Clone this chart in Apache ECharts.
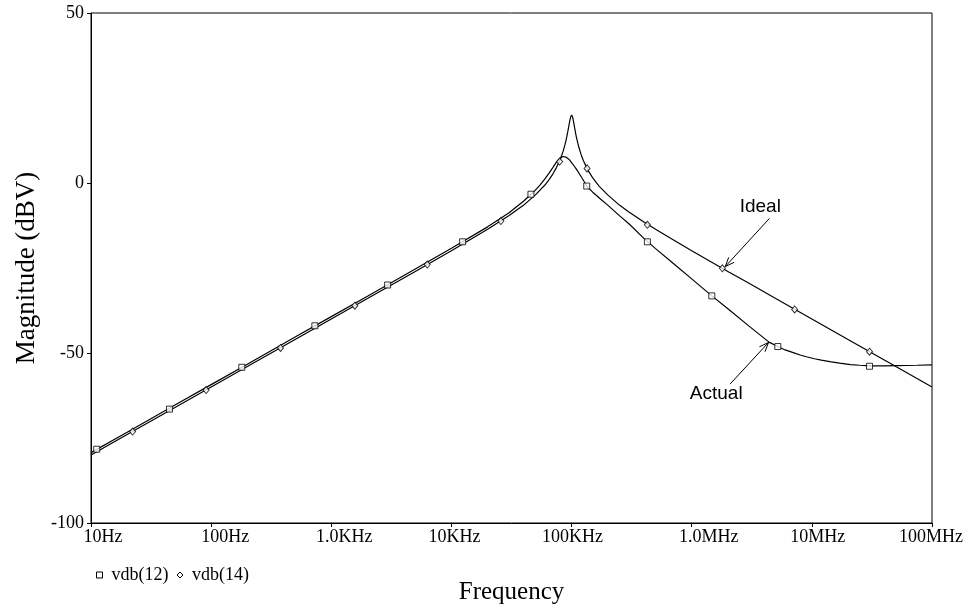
<!DOCTYPE html>
<html>
<head>
<meta charset="utf-8">
<script src="https://cdn.jsdelivr.net/npm/echarts@6/dist/echarts.min.js"></script>
<style>
  html, body { margin: 0; padding: 0; background: #fff; }
  #chart { width: 973px; height: 611px; }
</style>
</head>
<body>
<div id="chart"></div>
<script>
// Frequency response of the filter: ideal vs. actual magnitude (dBV)
const freqIdeal = [10, 20, 50, 100, 200, 500, 1e3, 2e3, 5e3, 1e4, 2e4, 3e4, 4e4, 5e4, 6e4, 6.5e4, 7e4, 7.5e4, 8e4, 8.5e4, 8.8e4, 9e4, 9.1e4, 9.3e4, 9.5e4, 9.7e4, 9.8e4, 9.9e4, 1e5, 1.01e5, 1.02e5, 1.03e5, 1.05e5, 1.08e5, 1.1e5, 1.15e5, 1.2e5, 1.25e5, 1.3e5, 1.4e5, 1.5e5, 1.7e5, 2e5, 2.5e5, 3e5, 4e5, 5e5, 7e5, 1e6, 2e6, 3e6, 5e6, 1e7, 2e7, 5e7, 1e8];
const magIdeal = [-80.0, -74.0, -66.0, -60.0, -54.0, -46.0, -40.0, -34.0, -26.0, -19.9, -13.6, -9.6, -6.5, -3.5, -0.6, 1.0, 2.7, 4.6, 6.7, 9.3, 11.2, 12.6, 13.4, 15.1, 16.9, 18.6, 19.3, 19.8, 20.0, 19.8, 19.4, 18.7, 17.1, 14.7, 13.3, 10.5, 8.4, 6.7, 5.4, 3.2, 1.5, -1.0, -3.5, -6.5, -8.5, -11.5, -13.6, -16.7, -19.9, -26.0, -29.5, -34.0, -40.0, -46.0, -54.0, -60.0];

const freqActual = [10, 20, 50, 100, 200, 500, 1e3, 2e3, 5e3, 1e4, 2e4, 3e4, 4e4, 4.59e4, 5e4, 5.5e4, 6e4, 6.5e4, 7e4, 7.5e4, 8e4, 8.2e4, 8.5e4, 8.8e4, 9e4, 9.5e4, 1e5, 1.05e5, 1.1e5, 1.2e5, 1.35e5, 1.5e5, 1.75e5, 2e5, 2.5e5, 3e5, 4e5, 5e5, 7e5, 1e6, 1.47e6, 2e6, 3e6, 4.4e6, 5.2e6, 6e6, 7e6, 8e6, 9e6, 1.05e7, 1.2e7, 1.45e7, 1.7e7, 2.1e7, 2.5e7, 3e7, 4e7, 5e7, 7.5e7, 1e8];
const magActual = [-79.3, -73.3, -65.3, -59.3, -53.3, -45.3, -39.3, -33.3, -25.3, -19.2, -12.9, -8.8, -5.3, -3.3, -2.1, -0.5, 1.2, 2.9, 4.6, 6.2, 7.3, 7.55, 7.8, 7.75, 7.6, 7.0, 6.0, 5.0, 4.0, 1.9, -1.1, -2.7, -4.8, -6.5, -9.6, -12.0, -16.3, -19.3, -23.6, -28.2, -33.2, -37.0, -42.1, -46.8, -48.1, -49.1, -49.9, -50.6, -51.1, -51.7, -52.1, -52.6, -53.0, -53.4, -53.6, -53.8, -53.8, -53.7, -53.6, -53.5];

// trace markers (squares on vdb(12), diamonds on vdb(14))
const markFreqActual = [11.16, 45, 180, 730, 2944, 12390, 45900, 133700, 427600, 1.47e6, 5.21e6, 3.02e7];
const markMagActual = [-78.3, -66.5, -54.2, -42.0, -30.0, -17.3, -3.3, -0.9, -17.3, -33.2, -48.1, -53.9];
const markFreqIdeal = [22.2, 90.8, 378, 1570, 6290, 25800, 79600, 134600, 427600, 1.8e6, 7.19e6, 3.02e7];
const markMagIdeal = [-73.1, -60.9, -48.5, -36.1, -24.0, -11.2, 6.3, 4.3, -12.3, -25.1, -37.2, -49.6];

const freqTicks = [10, 100, 1e3, 1e4, 1e5, 1e6, 1e7, 1e8];
const freqTickLabels = ['10Hz', '100Hz', '1.0KHz', '10KHz', '100KHz', '1.0MHz', '10MHz', '100MHz'];
// horizontal nudge (px) of each frequency label relative to its tick
const freqLabelNudge = [12, 14, 13, 3, 1, 17, 6, -1];

const seriesNames = ['vdb(12)', 'vdb(14)'];
const annotations = [
  { text: 'Ideal', at: [3.72e6, -7.0], from: [4.44e6, -10.4], to: [1.9e6, -24.6] },
  { text: 'Actual', at: [1.6e6, -62.1], from: [2.09e6, -59.1], to: [4.36e6, -46.9] }
];

const zip = (xs, ys) => xs.map((x, i) => [x, ys[i]]);
const serif = 'Liberation Serif';

const richLabels = {};
freqLabelNudge.forEach((n, i) => {
  richLabels['l' + i] = {
    fontFamily: serif, fontSize: 18, color: '#000',
    padding: n >= 0 ? [0, 0, 0, 2 * n] : [0, -2 * n, 0, 0]
  };
});

const chart = echarts.init(document.getElementById('chart'), null, { renderer: 'canvas' });

const hollow = { color: '#fff', borderColor: '#000', borderWidth: 1 };

chart.setOption({
  backgroundColor: '#fff',
  animation: false,
  grid: { left: 91, right: 41, top: 13, bottom: 88, show: true, borderColor: '#000', borderWidth: 1 },
  legend: {
    left: 96, top: 566, padding: 0, itemWidth: 6, itemHeight: 6, itemGap: 8,
    data: [
      { name: seriesNames[0], icon: 'rect', itemStyle: hollow },
      { name: seriesNames[1], icon: 'diamond', itemStyle: hollow }
    ],
    textStyle: { fontFamily: serif, fontSize: 18, color: '#000', padding: [0, 0, 0, 4] }
  },
  xAxis: {
    type: 'log', logBase: 10, min: 10, max: 1e8,
    name: 'Frequency', nameLocation: 'middle', nameGap: 57,
    nameTextStyle: { fontFamily: serif, fontSize: 25, color: '#000' },
    axisLine: { onZero: false, lineStyle: { color: '#000', width: 1 } },
    axisTick: { show: true, inside: false, length: 4, lineStyle: { color: '#000' } },
    minorTick: { show: false },
    splitLine: { show: false },
    axisLabel: {
      fontFamily: serif, fontSize: 18, color: '#000', margin: 5,
      rich: richLabels,
      formatter: v => {
        const i = freqTicks.findIndex(t => Math.abs(Math.log10(t) - Math.log10(v)) < 1e-6);
        return i >= 0 ? '{l' + i + '|' + freqTickLabels[i] + '}' : '';
      }
    }
  },
  yAxis: {
    type: 'value', min: -100, max: 50, interval: 50,
    name: 'Magnitude (dBV)', nameLocation: 'middle', nameGap: 48,
    nameTextStyle: { fontFamily: serif, fontSize: 27, color: '#000' },
    axisLine: { show: true, onZero: false, lineStyle: { color: '#000', width: 1 } },
    axisTick: { show: true, inside: false, length: 4, lineStyle: { color: '#000' } },
    splitLine: { show: false },
    axisLabel: { fontFamily: serif, fontSize: 18, color: '#000', margin: 7 }
  },
  series: [
    {
      name: seriesNames[0], type: 'line', data: zip(freqActual, magActual),
      showSymbol: false, symbol: 'none', smooth: false,
      lineStyle: { color: '#000', width: 1.2 }, z: 2
    },
    {
      name: seriesNames[1], type: 'line', data: zip(freqIdeal, magIdeal),
      showSymbol: false, symbol: 'none', smooth: false,
      lineStyle: { color: '#000', width: 1.2 }, z: 2
    },
    {
      name: seriesNames[0], type: 'scatter', data: zip(markFreqActual, markMagActual),
      symbol: 'rect', symbolSize: 6, itemStyle: hollow, z: 3
    },
    {
      name: seriesNames[1], type: 'scatter', data: zip(markFreqIdeal, markMagIdeal),
      symbol: 'diamond', symbolSize: [6, 7], itemStyle: hollow, z: 3
    }
  ]
});

// "Ideal" / "Actual" callouts with open arrowheads, placed in data coordinates
const graphics = [];
annotations.forEach(a => {
  const p = chart.convertToPixel({ gridIndex: 0 }, a.at);
  const s = chart.convertToPixel({ gridIndex: 0 }, a.from);
  const t = chart.convertToPixel({ gridIndex: 0 }, a.to);
  graphics.push({
    type: 'text', x: p[0], y: p[1],
    style: { text: a.text, font: '19px "Liberation Sans"', fill: '#000', textAlign: 'center', textVerticalAlign: 'middle' }
  });
  graphics.push({ type: 'line', shape: { x1: s[0], y1: s[1], x2: t[0], y2: t[1] }, style: { stroke: '#000', lineWidth: 1 } });
  const ang = Math.atan2(s[1] - t[1], s[0] - t[0]);
  const len = 10, spread = 0.38;
  graphics.push({
    type: 'polyline',
    shape: { points: [
      [t[0] + len * Math.cos(ang + spread), t[1] + len * Math.sin(ang + spread)],
      [t[0], t[1]],
      [t[0] + len * Math.cos(ang - spread), t[1] + len * Math.sin(ang - spread)]
    ] },
    style: { stroke: '#000', lineWidth: 1, fill: null }
  });
});
chart.setOption({ graphic: graphics });
</script>
</body>
</html>
